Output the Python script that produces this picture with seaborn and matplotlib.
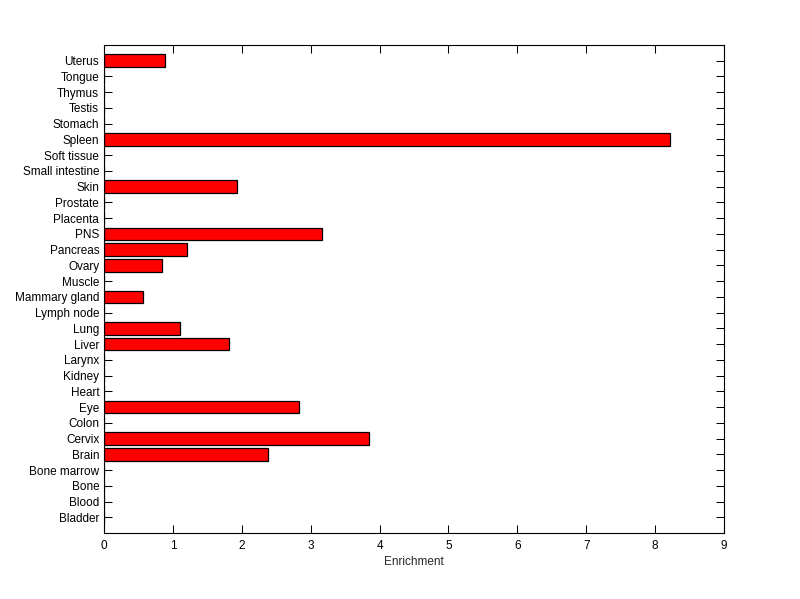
import matplotlib
matplotlib.use("Agg")
import matplotlib.pyplot as plt
import seaborn as sns
import pandas as pd

tissues = ["Uterus", "Tongue", "Thymus", "Testis", "Stomach", "Spleen",
           "Soft tissue", "Small intestine", "Skin", "Prostate", "Placenta",
           "PNS", "Pancreas", "Ovary", "Muscle", "Mammary gland", "Lymph node",
           "Lung", "Liver", "Larynx", "Kidney", "Heart", "Eye", "Colon",
           "Cervix", "Brain", "Bone marrow", "Bone", "Blood", "Bladder"]
enrichment = [0.88, 0, 0, 0, 0, 8.22,
              0, 0, 1.93, 0, 0,
              3.17, 1.20, 0.84, 0, 0.56, 0,
              1.10, 1.81, 0, 0, 0, 2.83, 0,
              3.84, 2.38, 0, 0, 0, 0]
x_ticks = [0, 1, 2, 3, 4, 5, 6, 7, 8, 9]

data = pd.DataFrame({"Tissue": tissues, "Enrichment": enrichment})

sns.set_style("white")
plt.rcParams["font.family"] = ["Liberation Sans", "DejaVu Sans"]

fig = plt.figure(figsize=(8, 5.99), dpi=100)
ax = fig.add_axes([0.13, 0.110, 0.775, 0.815])

sns.barplot(data=data, x="Enrichment", y="Tissue", order=tissues,
            color="#ff0000", saturation=1, width=0.8,
            edgecolor="black", linewidth=0.9, ax=ax)

ax.set_xlim(0, 9)
ax.set_ylim(len(tissues), -1)
ax.set_xticks(x_ticks)
ax.set_xticklabels([str(t) for t in x_ticks])
ax.set_xlabel("Enrichment", fontsize=8.5, labelpad=3)
ax.set_ylabel("")

ax.tick_params(direction="in", length=5.5, width=0.75, labelsize=8.5,
               top=True, right=True, bottom=True, left=True, colors="black")
ax.tick_params(axis="x", pad=5)
for s in ax.spines.values():
    s.set_visible(True)
    s.set_color("black")
    s.set_linewidth(0.8)

fig.savefig("out.png", dpi=100, facecolor="white")
